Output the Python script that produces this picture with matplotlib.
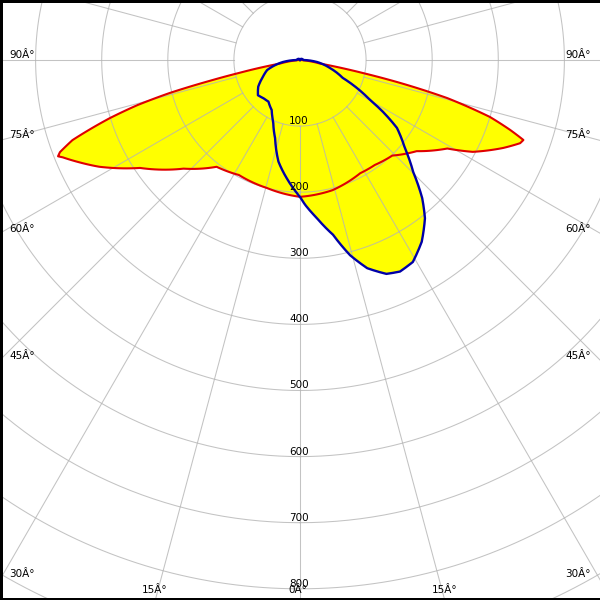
import numpy as np
import matplotlib
matplotlib.use('Agg')
import matplotlib.pyplot as plt
from matplotlib.lines import Line2D

# C0-C180 plane (red), angle from nadir in degrees, intensity in cd
red_ang = [-180, -90, -85, -80, -78, -77, -75.8, -74.5, -73, -70.6, -69, -68.3,
           -67.7, -65, -62, -56, -47, -38, -28, -14.5, 0, 14, 28, 35.5, 44,
           52, 59, 62, 66.6, 69.3, 70.3, 71.6, 73.3, 75.5, 77.2, 78.3, 80, 85,
           90, 180]
red_cd = [0, 0, 5, 30, 95, 140, 203, 255, 301, 365, 389, 394,
          388, 367, 344, 292, 241, 205, 197, 200, 207, 203, 194, 195, 201,
          224, 260, 296, 335, 356, 359, 335, 300, 230, 151, 97, 30, 5,
          0, 0]

# C90-C270 plane (blue)
blue_ang = [-180, -90, -83.3, -73, -65.3, -57.4, -50, -43.8, -37.2, -29.5,
            -23.4, -17.7, -12, -6.4, 0, 2, 6, 10.7, 14.4, 17.9, 22, 25.3,
            29.2, 33.8, 38.3, 41.5, 45.3, 50, 55, 58, 60.3, 63.8, 67.3, 75,
            83.3, 90, 180]
blue_cd = [0, 5, 26, 52, 62, 75, 83, 80, 79, 87,
           102, 124, 157, 180, 207, 219, 240, 269, 305, 331, 349, 354,
           350, 331, 305, 279, 241, 207, 179, 148, 122, 96, 70, 47,
           26, 5, 0]

ring_values = [100, 200, 300, 400, 500, 600, 700, 800]
deg = '\u00c2\u00b0'
side_angles = ['90', '75', '60', '45', '30']
side_label_y = [58, 138, 232, 359, 577]
bottom_angles = ['15', '0', '15']
bottom_label_x = [155, 298, 445]

W = 600
cx, cy = 300, 60
px_per_cd = 0.661
rmax = 1000
R = rmax * px_per_cd

fig = plt.figure(figsize=(6, 6), dpi=100)
ax = fig.add_axes([(cx - R) / W, (W - cy - R) / W, 2 * R / W, 2 * R / W],
                  projection='polar')
ax.set_theta_zero_location('S')
ax.set_theta_direction(1)
ax.set_ylim(0, rmax)
ax.set_xticks([])
ax.set_yticks([])
ax.grid(False)
ax.spines['polar'].set_visible(False)

for ang, cd in ((red_ang, red_cd), (blue_ang, blue_cd)):
    for poly in ax.fill(np.radians(ang), cd, color='#ffff00', lw=0, zorder=1):
        poly.get_path()._interpolation_steps = 12

gc = '#b4b4b4'
t = np.linspace(0, 2 * np.pi, 721)
for r in range(100, rmax, 100):
    ax.plot(t, np.full_like(t, r), color=gc, lw=0.75, alpha=0.8, zorder=2)
for a in range(0, 360, 15):
    ax.plot([np.radians(a)] * 2, [100, rmax], color=gc, lw=0.75, alpha=0.8,
            zorder=2)

curves = ax.plot(np.radians(red_ang), red_cd, color='#e00000', lw=1.5, zorder=3)
curves += ax.plot(np.radians(blue_ang), blue_cd, color='#0000a8', lw=1.7,
                  zorder=4)
for ln in curves:
    ln.get_path()._interpolation_steps = 12

fs = 7.5
for v in ring_values:
    y = cy + v * px_per_cd - 2
    fig.text(299 / W, 1 - y / W, str(v), fontsize=fs, ha='center',
             va='baseline', zorder=5)
for s, y in zip(side_angles, side_label_y):
    fig.text(9 / W, 1 - y / W, s + deg, fontsize=fs, ha='left', va='baseline')
    fig.text(565 / W, 1 - y / W, s + deg, fontsize=fs, ha='left', va='baseline')
for s, x in zip(bottom_angles, bottom_label_x):
    fig.text(x / W, 1 - 593 / W, s + deg, fontsize=fs, ha='center',
             va='baseline')

for xs, ys in (([0, 0], [0, 1]), ([0, 1], [1, 1]), ([0, 1], [0, 0])):
    fig.add_artist(Line2D(xs, ys, transform=fig.transFigure, color='black',
                          lw=3.6))

fig.savefig('out.png', dpi=100)
